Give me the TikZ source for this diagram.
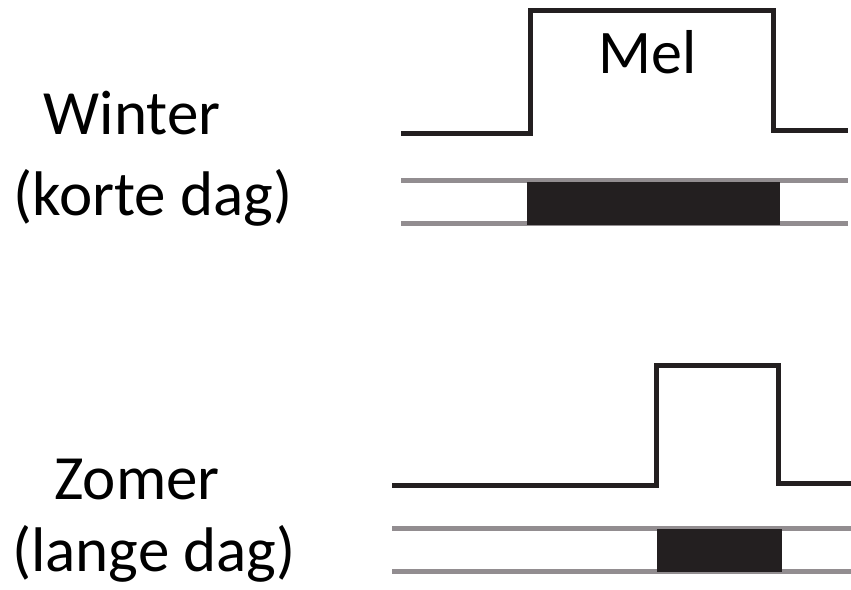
\documentclass[tikz,border=0pt]{standalone}
\usepackage{fontspec}
\setmainfont{Carlito}
\definecolor{wave}{HTML}{231F20}
\definecolor{rail}{HTML}{928D90}
\begin{document}
\begin{tikzpicture}[x=1pt,y=-1pt,
  wavestyle/.style={draw=wave,line width=5pt,line join=miter},
  railstyle/.style={draw=rail,line width=5pt},
  barstyle/.style={fill=wave},
  lbl/.style={font=\fontsize{63}{63}\selectfont,anchor=base,inner sep=0pt},
  mel/.style={font=\fontsize{62}{62}\selectfont,anchor=base,inner sep=0pt}]
\useasboundingbox (0,0) rectangle (851,589);
% Winter
\coordinate (w0) at (401,133);
\coordinate (w1) at (848,130);
\draw[wavestyle] (w0) -- (530,133) -- (530,10) -- (773,10) -- (773,130) -- (w1);
\coordinate (wr1a) at (401,180.5); \coordinate (wr1b) at (848,180.5);
\coordinate (wr2a) at (401,223);   \coordinate (wr2b) at (848,223);
\draw[railstyle] (wr1a) -- (wr1b);
\draw[railstyle] (wr2a) -- (wr2b);
\fill[barstyle] (527,182) rectangle (780,225);
\node[mel] (mel) at (648,73) {Mel};
\node[lbl] (winter) at (132,134) {Winter};
\node[lbl] (korte) at (153,215) {(korte dag)};
% Zomer
\coordinate (z0) at (392,485);
\coordinate (z1) at (851,483);
\draw[wavestyle] (z0) -- (656,485) -- (656,365) -- (778,365) -- (778,483) -- (z1);
\coordinate (zr1a) at (392,528.5); \coordinate (zr1b) at (851,528.5);
\coordinate (zr2a) at (392,571.5); \coordinate (zr2b) at (851,571.5);
\draw[railstyle] (zr1a) -- (zr1b);
\draw[railstyle] (zr2a) -- (zr2b);
\fill[barstyle] (657,529) rectangle (782,572);
\node[lbl] (zomer) at (137,499) {Zomer};
\node[lbl] (lange) at (154,571) {(lange dag)};
\end{tikzpicture}
\end{document}
